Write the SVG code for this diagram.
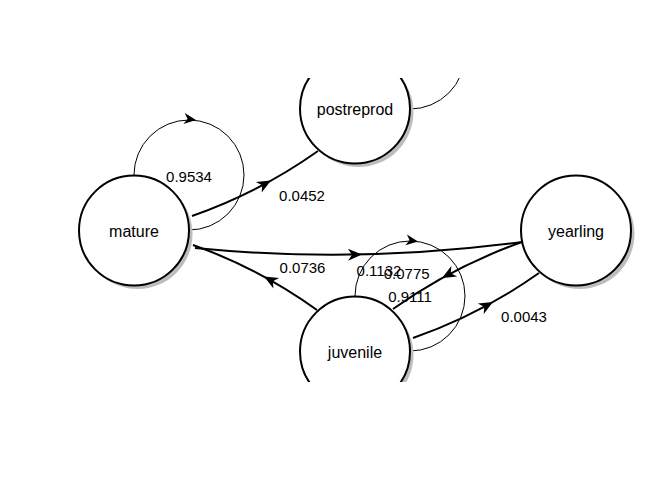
<svg xmlns="http://www.w3.org/2000/svg" xmlns:xlink="http://www.w3.org/1999/xlink" width="672" height="480" viewBox="0 0 672 480">
<style>
.edge{fill:none;stroke:#000;stroke-width:2}
.loop{fill:none;stroke:#000;stroke-width:1}
.shadow{fill:#bdbdbd;stroke:none}
.node{fill:#fff;stroke:#000;stroke-width:2}
.nlab{font-family:"Liberation Sans",Arial,sans-serif;font-size:16px;text-anchor:middle;fill:#000}
.elab{font-family:"Liberation Sans",Arial,sans-serif;font-size:15px;text-anchor:middle;fill:#000}
</style>
<defs>
<clipPath id="clip"><rect x="0" y="78" width="672" height="304"/></clipPath>
<path id="ah" d="M0,0 L-14,-6 L-10,0 L-14,6 Z" fill="#000"/>
<path id="ahs" d="M0,0 L-12,-5.5 L-8.5,0 L-12,5.5 Z" fill="#000"/>
</defs>
<rect width="672" height="480" fill="#fff"/>
<g clip-path="url(#clip)">
<g id="connectors">
<path class="loop" d="M134,175 A55,55 0 1 1 189,230"/>
<use xlink:href="#ahs" transform="translate(196,120) rotate(7)"/>
<path class="loop" d="M355,54 A55,55 0 1 1 410,109"/>
<path class="loop" d="M355,296 A55,55 0 1 1 410,351"/>
<use xlink:href="#ahs" transform="translate(418,241.5) rotate(8)"/>
<path class="edge" d="M192,216 Q259.6,192.4 318,151"/>
<use xlink:href="#ah" transform="translate(271,180.5) rotate(-29)"/>
<path class="edge" d="M195,248 Q358,264 522,242"/>
<use xlink:href="#ah" transform="translate(362,254.5) rotate(-1.2)"/>
<path class="edge" d="M317,310 Q259.6,268.6 193,245"/>
<use xlink:href="#ah" transform="translate(264,276.5) rotate(208.5)"/>
<path class="edge" d="M522,242 Q452.9,266.6 393,309"/>
<use xlink:href="#ah" transform="translate(442,278) rotate(151)"/>
<path class="edge" d="M413,338 Q480.6,314.4 539,273"/>
<use xlink:href="#ah" transform="translate(493,302) rotate(-29.2)"/>
<text class="elab" x="189" y="182">0.9534</text>
<text class="elab" x="302" y="201">0.0452</text>
<text class="elab" x="302.5" y="273">0.0736</text>
<text class="elab" x="379" y="275.5">0.1132</text>
<text class="elab" x="406.7" y="279">0.0775</text>
<text class="elab" x="410" y="301.5">0.9111</text>
<text class="elab" x="524" y="322">0.0043</text>
</g>
<g id="mature">
<circle class="shadow" cx="137.5" cy="234" r="55"/>
<circle class="node" cx="134" cy="230.5" r="55"/>
<text class="nlab" x="134" y="236.5">mature</text>
</g>
<g id="postreprod">
<circle class="shadow" cx="358.5" cy="112" r="55"/>
<circle class="node" cx="355" cy="108.5" r="55"/>
<text class="nlab" x="355" y="114.5">postreprod</text>
</g>
<g id="yearling">
<circle class="shadow" cx="579.5" cy="234" r="55"/>
<circle class="node" cx="576" cy="230.5" r="55"/>
<text class="nlab" x="576" y="236.5">yearling</text>
</g>
<g id="juvenile">
<circle class="shadow" cx="358.5" cy="355" r="55"/>
<circle class="node" cx="355" cy="351.5" r="55"/>
<text class="nlab" x="355" y="357.5">juvenile</text>
</g>
</g>
</svg>
